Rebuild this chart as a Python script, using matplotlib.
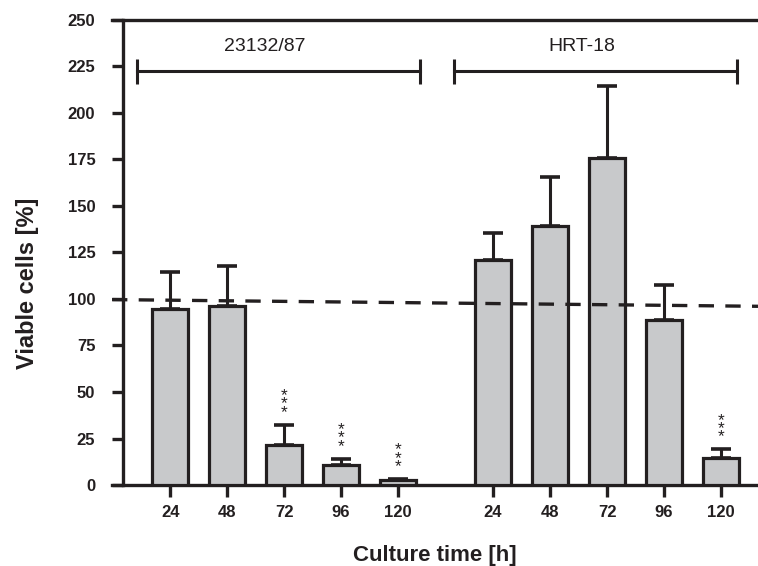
import numpy as np
import matplotlib
matplotlib.use("Agg")
import matplotlib.pyplot as plt

plt.rcParams['font.family'] = ['Liberation Sans', 'DejaVu Sans']

# data
hours = ['24', '48', '72', '96', '120']
groups = ['23132/87', 'HRT-18']
viable_23132 = [94.3, 95.9, 21.7, 11.0, 2.6]
err_23132 = [20.0, 21.8, 10.8, 3.2, 0.6]
viable_hrt = [121.1, 139.3, 175.7, 88.9, 14.6]
err_hrt = [14.1, 26.1, 38.6, 18.8, 4.6]
signif_23132 = [False, False, True, True, True]
signif_hrt = [False, False, False, False, True]
baseline = [99.6, 96.0]   # dashed 100 % reference, left and right end
bracket_y = 222.3

edge = '#231f20'
fill = '#c8c9cb'

x1 = np.arange(5)
x2 = np.arange(5) + 5.67
xlim = (-1.02, 10.32)

fig = plt.figure(figsize=(7.58, 5.66), dpi=100)
ax = fig.add_axes([0.1478, 0.143, 0.8522, 0.8225])

for xs, vals, errs in [(x1, viable_23132, err_23132), (x2, viable_hrt, err_hrt)]:
    ax.errorbar(xs, vals, yerr=[np.zeros(5), errs], fmt='none', ecolor=edge,
                elinewidth=2.2, capsize=7.5, capthick=2.6, zorder=2)
    ax.bar(xs, vals, width=0.63, color=fill, edgecolor=edge, linewidth=2.3, zorder=3)

for xs, vals, errs, sig in [(x1, viable_23132, err_23132, signif_23132),
                            (x2, viable_hrt, err_hrt, signif_hrt)]:
    for x, v, e, s in zip(xs, vals, errs, sig):
        if s:
            ax.annotate('*\n*\n*', (x, v + e), xytext=(0, 3.5), textcoords='offset points',
                        ha='center', va='bottom', fontsize=12.5, linespacing=0.45,
                        color=edge, zorder=4)

# dashed reference line
ax.plot(xlim, baseline, color=edge, lw=2.4, dashes=(4.6, 3.4), zorder=5)

# group brackets
for (a, b), name in zip([(-0.58, 4.39), (4.98, 9.96)], groups):
    ax.plot([a, b], [bracket_y, bracket_y], color=edge, lw=2.2, clip_on=False)
    for xe in (a, b):
        ax.plot([xe, xe], [bracket_y - 6.7, bracket_y + 6.7], color=edge, lw=2.2,
                solid_capstyle='butt')
    ax.text((a + b) / 2 - 0.25, bracket_y + 8.5, name, ha='center', va='bottom',
            fontsize=14, color=edge)

ax.set_xlim(*xlim)
ax.set_ylim(0, 250)
ax.set_xticks(np.concatenate([x1, x2]))
ax.set_xticklabels(hours + hours)
ax.set_yticks(np.arange(0, 251, 25))

ax.spines['right'].set_visible(False)
ax.spines['left'].set_position(('data', -0.825))
for sp in ['left', 'bottom', 'top']:
    ax.spines[sp].set_linewidth(2.4)
    ax.spines[sp].set_color(edge)
ax.tick_params(axis='both', direction='out', width=2.4, color=edge,
               labelsize=12, labelcolor=edge)
ax.tick_params(axis='y', length=8, pad=12)
ax.tick_params(axis='x', length=8.5, pad=6)
ax.tick_params(top=False)
for lbl in ax.get_xticklabels() + ax.get_yticklabels():
    lbl.set_fontweight('bold')

ax.set_xlabel('Culture time [h]', fontsize=16, fontweight='bold', color=edge, labelpad=18)
fig.text(0.036, 0.5, 'Viable cells [%]', rotation=90, ha='center', va='center',
         fontsize=17, fontweight='bold', color=edge)

fig.savefig('out.png', dpi=100)
